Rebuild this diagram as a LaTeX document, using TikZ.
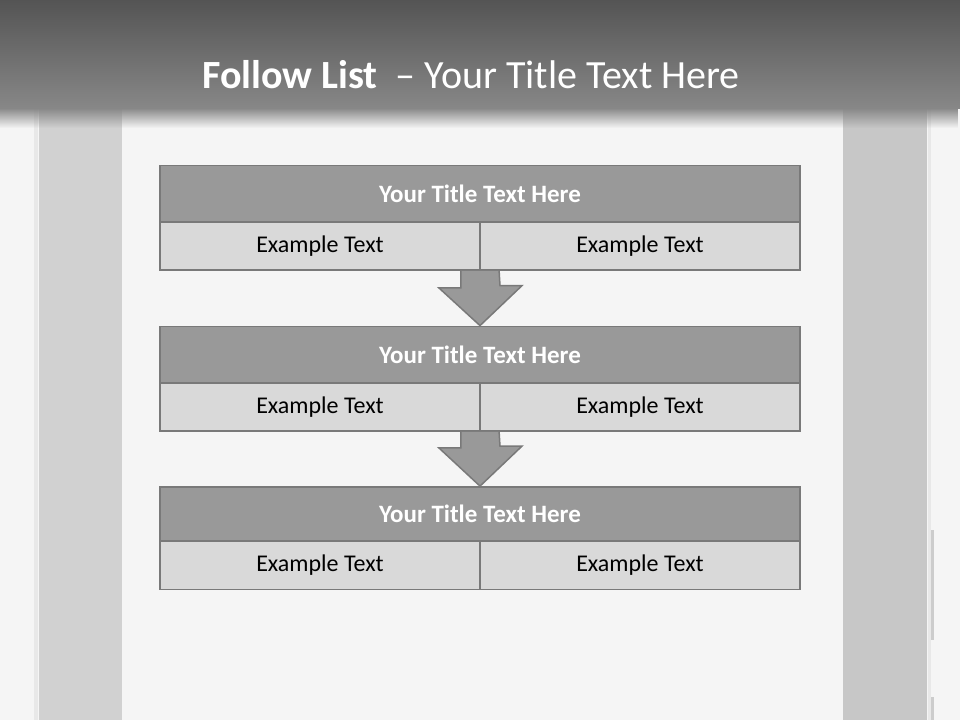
\documentclass[tikz,border=0pt]{standalone}
\usepackage{fontspec}
\setmainfont{Carlito}
\usetikzlibrary{fadings}
\begin{document}
\begin{tikzpicture}[x=1pt,y=-1pt,
  titlebox/.style={draw=gray!95!black, line width=1.8pt, fill=black!40, minimum width=640pt, minimum height=56pt, inner sep=0pt, text=white, font=\fontsize{25}{30}\selectfont\bfseries},
  rowbox/.style={draw=gray!95!black, line width=1.8pt, fill=black!15, minimum width=320pt, minimum height=48pt, inner sep=0pt, font=\fontsize{24}{29}\selectfont},
  arrowshape/.style={draw=gray!95!black, line width=1.5pt, fill=black!40, line join=miter}
]
\useasboundingbox (0,0) rectangle (960,720);
\fill[black!4] (0,0) rectangle (960,720);
% side bands
\fill[black!9] (34,0) rectangle (38,720);
\fill[black!18] (39,0) rectangle (122,720);
\fill[black!22] (843,0) rectangle (927,720);
\fill[black!9] (928,0) rectangle (931,720);
\fill[black!20] (931,530) rectangle (934,640);
\fill[black!20] (931,697) rectangle (934,720);
% header
\shade[top color=black!67, bottom color=black!47] (0,0) rectangle (960,108);
\fill[black!47, path fading=south] (0,108) rectangle (960,128);
\node[text=white, font=\fontsize{40}{46}\selectfont, anchor=base] (title) at (471,88) {\textbf{Follow List} \ – Your Title Text Here};
% box 1
\node[titlebox] (t1) at (480,193.5) {Your Title Text Here};
\node[rowbox] (a1) at (320,246) {Example Text};
\node[rowbox] (b1) at (640,246) {Example Text};
% box 2
\node[titlebox] (t2) at (480,354.5) {Your Title Text Here};
\node[rowbox] (a2) at (320,407) {Example Text};
\node[rowbox] (b2) at (640,407) {Example Text};
% box 3
\node[titlebox, minimum height=54pt] (t3) at (480,514) {Your Title Text Here};
\node[rowbox] (a3) at (320,565.5) {Example Text};
\node[rowbox] (b3) at (640,565.5) {Example Text};
% arrows
\draw[arrowshape] ([xshift=-20pt]a1.south east) -- ++(0,17) -- ++(-22,0) -- (t2.north) -- ++(42,-40) -- ++(-22,0) -- ([xshift=20pt]b1.south west);
\draw[arrowshape] ([xshift=-20pt]a2.south east) -- ++(0,16) -- ++(-22,0) -- (t3.north) -- ++(42,-40) -- ++(-22,0) -- ([xshift=20pt]b2.south west);
\end{tikzpicture}
\end{document}
